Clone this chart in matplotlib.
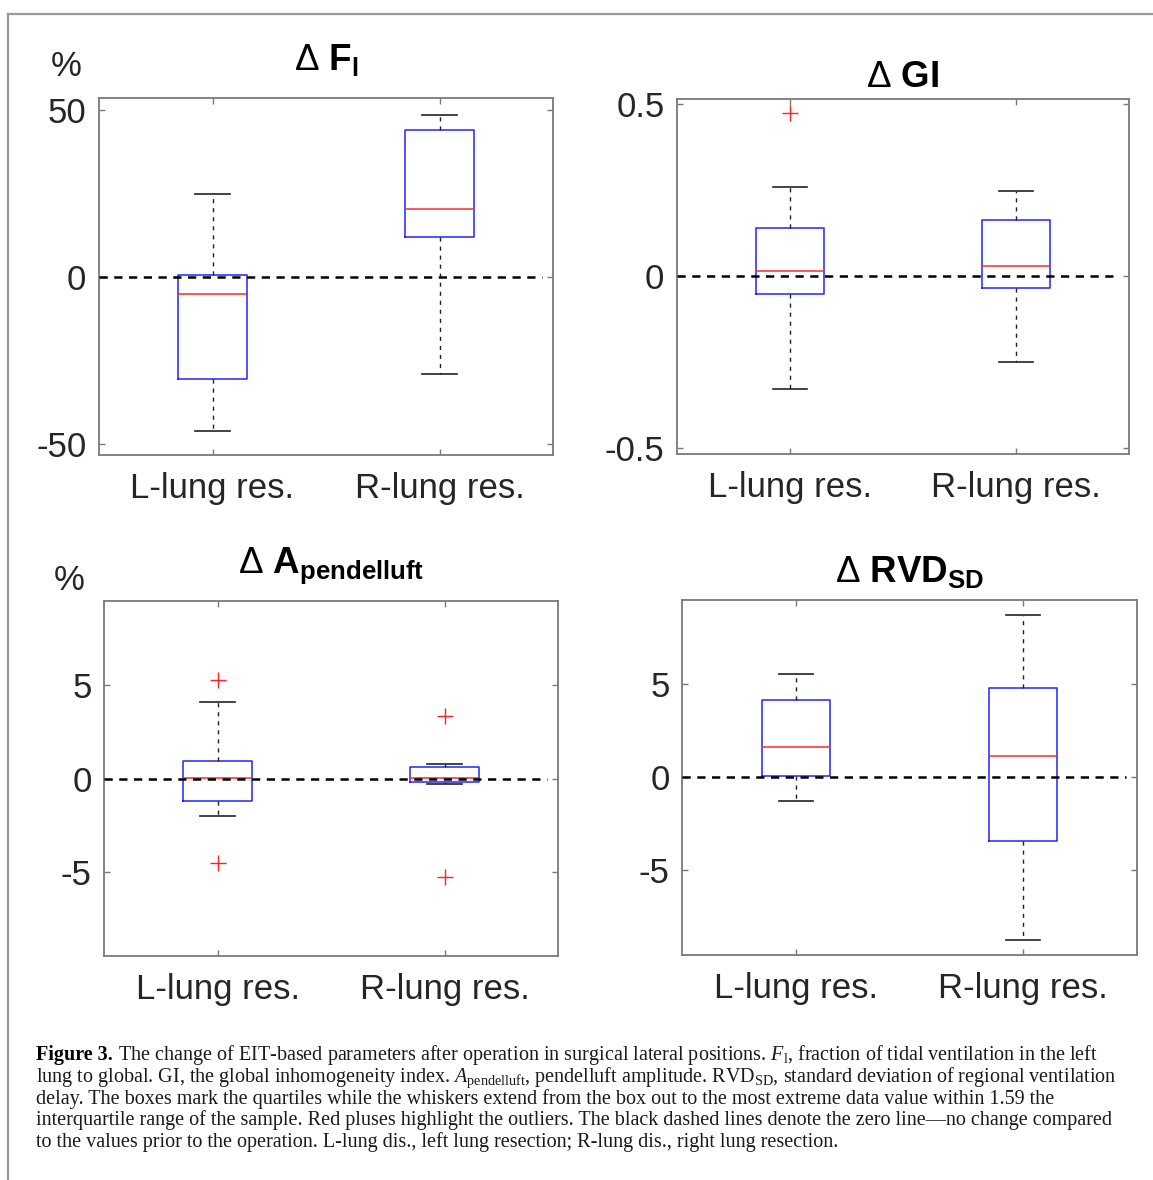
"""
Figure 3 — variation des paramètres EIT après opération (boîtes à moustaches 2x2).
Les statistiques (quartiles, moustaches, valeurs aberrantes) sont lues sur la figure.
"""

import matplotlib
matplotlib.use("Agg")
import matplotlib.pyplot as plt
from matplotlib.lines import Line2D

plt.rcParams["font.family"] = ["Liberation Sans", "DejaVu Sans"]
plt.rcParams["axes.unicode_minus"] = False
plt.rcParams["mathtext.fontset"] = "custom"
plt.rcParams["mathtext.rm"] = "Liberation Serif"
plt.rcParams["mathtext.it"] = "Liberation Serif:italic"
plt.rcParams["mathtext.bf"] = "Liberation Sans:bold"
plt.rcParams["mathtext.sf"] = "Liberation Sans"

W, H = 1153, 1180

groupes = ["L-lung res.", "R-lung res."]

# ΔF_l (%)
fl_med = [-5.0, 20.5]
fl_q1 = [-30.5, 12.0]
fl_q3 = [0.5, 44.0]
fl_bas = [-46.0, -29.0]
fl_haut = [25.0, 48.5]
fl_aberr = [[], []]

# ΔGI
gi_med = [0.015, 0.030]
gi_q1 = [-0.053, -0.034]
gi_q3 = [0.139, 0.164]
gi_bas = [-0.328, -0.249]
gi_haut = [0.259, 0.247]
gi_aberr = [[0.475], []]

# ΔA_pendelluft (%)
pe_med = [0.02, 0.02]
pe_q1 = [-1.21, -0.20]
pe_q3 = [0.96, 0.60]
pe_bas = [-2.0, -0.29]
pe_haut = [4.11, 0.78]
pe_aberr = [[5.29, -4.5], [3.33, -5.29]]

# ΔRVD_SD
rv_med = [1.58, 1.08]
rv_q1 = [0.02, -3.47]
rv_q3 = [4.12, 4.77]
rv_bas = [-1.31, -8.79]
rv_haut = [5.52, 8.67]
rv_aberr = [[], []]


def stats(med, q1, q3, bas, haut, aberr):
    return [dict(med=med[i], q1=q1[i], q3=q3[i], whislo=bas[i], whishi=haut[i],
                 fliers=aberr[i], label=groupes[i]) for i in range(len(groupes))]


def position(g, d, h, b):
    """Boîte d'axes en pixels (gauche, droite, haut, bas) → fraction de figure."""
    return [g / W, 1 - b / H, (d - g) / W, (b - h) / H]


panneaux = [
    # (stats, position, ylim, ticks, étiquettes, titre, y titre)
    (stats(fl_med, fl_q1, fl_q3, fl_bas, fl_haut, fl_aberr), (99, 553, 98, 455),
     (-53.3, 53.6), [-50, 0, 50], ["-50", "0", "50"], r"Δ $\mathbf{F_l}$", 70),
    (stats(gi_med, gi_q1, gi_q3, gi_bas, gi_haut, gi_aberr), (677, 1129, 99, 454),
     (-0.517, 0.515), [-0.5, 0, 0.5], ["-0.5", "0", "0.5"], r"Δ $\mathbf{GI}$", 87),
    (stats(pe_med, pe_q1, pe_q3, pe_bas, pe_haut, pe_aberr), (104, 558, 601, 956),
     (-9.5, 9.5), [-5, 0, 5], ["-5", "0", "5"], r"Δ $\mathbf{A_{pendelluft}}$", 573),
    (stats(rv_med, rv_q1, rv_q3, rv_bas, rv_haut, rv_aberr), (682, 1137, 600, 955),
     (-9.6, 9.5), [-5, 0, 5], ["-5", "0", "5"], r"Δ $\mathbf{RVD_{SD}}$", 582),
]

fig = plt.figure(figsize=(W / 100, H / 100), dpi=100)

for st, (g, d, h, b), ylim, ticks, labels, titre, y_titre in panneaux:
    ax = fig.add_axes(position(g, d, h, b))
    ax.bxp(st, positions=[1, 2], widths=0.3, showfliers=True,
           boxprops=dict(color="#2323ff", linewidth=1.1),
           medianprops=dict(color="#ff2a2a", linewidth=1.1),
           whiskerprops=dict(color="#222222", linewidth=1.0, linestyle=(0, (3, 3.5))),
           capprops=dict(color="#222222", linewidth=1.2),
           flierprops=dict(marker="+", markeredgecolor="#ff2020", markersize=11,
                           markeredgewidth=1.0, linestyle="none"))
    ax.axhline(0, xmin=0, xmax=0.975, color="black", linewidth=1.8,
               linestyle=(0, (3.3, 2.6)), zorder=4)
    ax.set_xlim(0.5, 2.5)
    ax.set_ylim(*ylim)
    ax.set_yticks(ticks)
    ax.set_yticklabels(labels)
    ax.set_xticks([1, 2])
    ax.set_xticklabels(groupes)
    ax.tick_params(direction="in", length=4, width=1, color="#7a7a7a",
                   labelcolor="#262626", labelsize=25, top=True, right=True)
    ax.tick_params(axis="x", pad=12)
    ax.tick_params(axis="y", pad=9)
    for sp in ax.spines.values():
        sp.set_color("#7a7a7a")
        sp.set_linewidth(1.3)
    y_ax = 1 + (h - y_titre) / (b - h)
    ax.set_title(titre, fontsize=26.5, fontweight="normal", y=y_ax, pad=0,
                 va="baseline", color="black")

# unités
fig.text(66 / W, 1 - 66 / H, "%", fontsize=25, ha="center", va="center", color="#262626")
fig.text(69 / W, 1 - 580 / H, "%", fontsize=25, ha="center", va="center", color="#262626")

# cadre gris de la page
fig.add_artist(Line2D([8 / W, 8 / W], [0, 1 - 14 / H], color="#9a9a9a", lw=1.6,
                      transform=fig.transFigure))
fig.add_artist(Line2D([8 / W, 1], [1 - 14 / H, 1 - 14 / H], color="#9a9a9a", lw=1.6,
                      transform=fig.transFigure))

# ──────────────────────────────────────────────────────────────────────────────
# Légende sous la figure

ax_leg = fig.add_axes([0, 0, 1, 1], zorder=-1)
ax_leg.set_axis_off()

debut = " The change of EIT-based parameters after operation in surgical lateral positions. " \
        r"$F_\mathrm{l}$, fraction of tidal ventilation in the left"
lignes = [
    r"lung to global. GI, the global inhomogeneity index. $A_\mathrm{pendelluft}$, "
    r"pendelluft amplitude. RVD$_\mathrm{SD}$, standard deviation of regional ventilation",
    "delay. The boxes mark the quartiles while the whiskers extend from the box out to the "
    "most extreme data value within 1.59 the",
    "interquartile range of the sample. Red pluses highlight the outliers. The black dashed "
    "lines denote the zero line—no change compared",
    "to the values prior to the operation. L-lung dis., left lung resection; R-lung dis., "
    "right lung resection.",
]
x0 = 36
y_lignes = [1060, 1082.5, 1104, 1125, 1146.5]

renderer = fig.canvas.get_renderer()
essai = ax_leg.text(x0 / W, 0.5, lignes[0], fontsize=14, family="Liberation Serif")
taille = 14 * (1122 - x0) / essai.get_window_extent(renderer).width
essai.remove()

tb = ax_leg.text(x0 / W, 1 - y_lignes[0] / H, "Figure 3.", fontsize=taille,
                 family="Liberation Serif", fontweight="bold", va="baseline")
x_fin = tb.get_window_extent(renderer).x1
ax_leg.text(x_fin / W, 1 - y_lignes[0] / H, debut, fontsize=taille,
            family="Liberation Serif", va="baseline", color="#1a1a1a")
for texte, y in zip(lignes, y_lignes[1:]):
    ax_leg.text(x0 / W, 1 - y / H, texte, fontsize=taille, family="Liberation Serif",
                va="baseline", color="#1a1a1a")

plt.savefig("out.png", dpi=100)
